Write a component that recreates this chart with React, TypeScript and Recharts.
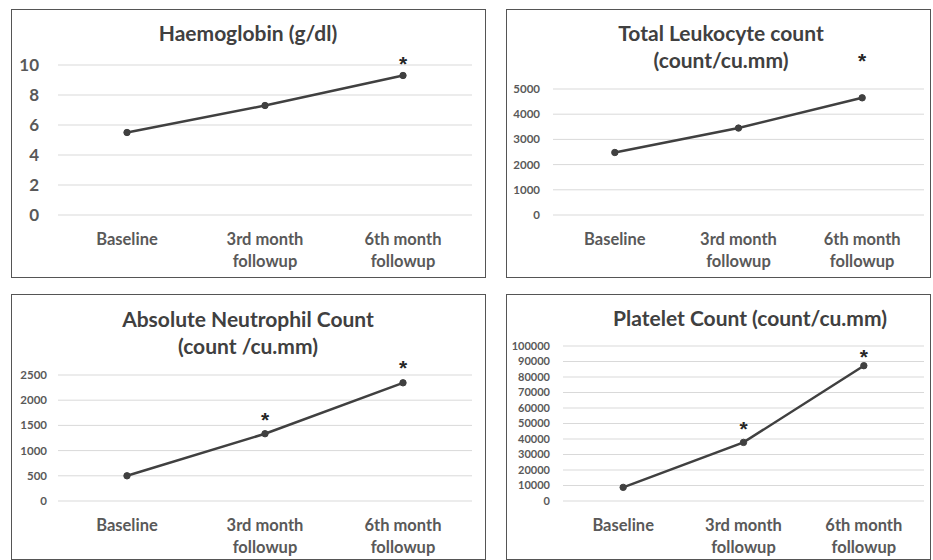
import React from 'react';
import { LineChart, Line, XAxis, YAxis, CartesianGrid } from 'recharts';

const categories = ['Baseline', '3rd month followup', '6th month followup'];

const haemoglobin = [5.5, 7.3, 9.3];
const leukocyte = [2480, 3450, 4650];
const neutrophil = [500, 1335, 2345];
const platelet = [8800, 37800, 87300];

const haemoglobinSig = [false, false, true];
const leukocyteSig = [false, false, true];
const neutrophilSig = [false, true, true];
const plateletSig = [false, true, true];

const haemoglobinTicks = [0, 2, 4, 6, 8, 10];
const leukocyteTicks = [0, 1000, 2000, 3000, 4000, 5000];
const neutrophilTicks = [0, 500, 1000, 1500, 2000, 2500];
const plateletTicks = [0, 10000, 20000, 30000, 40000, 50000, 60000, 70000, 80000, 90000, 100000];

const FONT = 'Lato, "Open Sans", sans-serif';
const LINE = '#404040';
const TEXT = '#595959';

type PanelProps = {
  left: number; top: number; width: number; height: number;
  yAxisWidth: number; marginTop: number; marginRight: number; xAxisHeight: number;
  title: string[]; titleX: number; titleY: number;
  values: number[]; sig: boolean[]; sigLift: number[];
  ticks: number[]; yFont: number; yGap: number;
};

const XTick = (props: any) => {
  const { x, y, payload } = props;
  const words = String(payload.value).split(' ');
  const lines = words.length > 2 ? [words.slice(0, 2).join(' '), words.slice(2).join(' ')] : [words.join(' ')];
  return (
    <text x={x} y={y} textAnchor="middle" fill={TEXT} fontFamily={FONT} fontWeight={700} fontSize={16.5}>
      {lines.map((l, i) => (
        <tspan key={i} x={x} dy={i === 0 ? 30 : 22}>{l}</tspan>
      ))}
    </text>
  );
};

function Panel(p: PanelProps) {
  const data = categories.map((c, i) => ({ cat: c, v: p.values[i] }));
  const plotW = p.width - p.yAxisWidth - p.marginRight;
  const band = plotW / categories.length;
  const max = p.ticks[p.ticks.length - 1];
  return (
    <>
      <div style={{ position: 'absolute', left: p.left, top: p.top, width: p.width - 2, height: p.height - 2, border: '1px solid #555' }} />
      <div style={{ position: 'absolute', left: p.titleX - 220, top: p.titleY - 14.5, width: 440, textAlign: 'center', fontFamily: FONT, fontWeight: 700, fontSize: 21, lineHeight: '27.5px', color: LINE }}>
        {p.title.map((t, i) => <div key={i}>{t}</div>)}
      </div>
      <div style={{ position: 'absolute', left: p.left, top: p.top }}>
        <LineChart width={p.width} height={p.height} data={data} margin={{ top: p.marginTop, right: p.marginRight, bottom: 0, left: 0 }}>
          <CartesianGrid vertical={false} stroke="#d9d9d9" strokeWidth={1} />
          <XAxis dataKey="cat" height={p.xAxisHeight} axisLine={false} tickLine={false} tickSize={0} tickMargin={0} interval={0} padding={{ left: band / 2, right: band / 2 }} tick={<XTick />} />
          <YAxis width={p.yAxisWidth} domain={[0, max]} ticks={p.ticks} axisLine={false} tickLine={false} tickSize={0} tickMargin={p.yGap} interval={0}
            tick={{ fill: TEXT, fontFamily: FONT, fontWeight: 700, fontSize: p.yFont }} />
          <Line type="linear" dataKey="v" stroke={LINE} strokeWidth={2.5} isAnimationActive={false}
            dot={{ r: 3.2, fill: LINE, stroke: LINE, strokeWidth: 1 }}
            label={(lp: any) => {
              const { x, y, index } = lp;
              if (!p.sig[index]) return <g key={index} />;
              return (
                <text key={index} x={x} y={y - p.sigLift[index]} textAnchor="middle" fill="#262626" fontFamily='"Liberation Sans", Arial, sans-serif' fontWeight={700} fontSize={21}>*</text>
              );
            }} />
        </LineChart>
      </div>
    </>
  );
}

export default function App() {
  return (
    <div style={{ position: 'absolute', left: 0, top: 0, width: 933, height: 560, background: '#fff', overflow: 'hidden' }}>
      <Panel left={11} top={9} width={475} height={269} yAxisWidth={47} marginTop={56} marginRight={14} xAxisHeight={63}
        title={['Haemoglobin (g/dl)']} titleX={248} titleY={33}
        values={haemoglobin} sig={haemoglobinSig} sigLift={[0, 0, 5]} ticks={haemoglobinTicks} yFont={17} yGap={19} />
      <Panel left={506} top={9} width={425} height={269} yAxisWidth={47} marginTop={80} marginRight={7} xAxisHeight={63}
        title={['Total Leukocyte count', '(count/cu.mm)']} titleX={721} titleY={33}
        values={leukocyte} sig={leukocyteSig} sigLift={[0, 0, 30]} ticks={leukocyteTicks} yFont={11.5} yGap={13} />
      <Panel left={11} top={294} width={475} height={266} yAxisWidth={47} marginTop={81} marginRight={14} xAxisHeight={59}
        title={['Absolute Neutrophil Count', '(count /cu.mm)']} titleX={248} titleY={319}
        values={neutrophil} sig={neutrophilSig} sigLift={[0, 7, 8]} ticks={neutrophilTicks} yFont={11.5} yGap={11} />
      <Panel left={506} top={294} width={425} height={266} yAxisWidth={57} marginTop={52} marginRight={7} xAxisHeight={59}
        title={['Platelet Count (count/cu.mm)']} titleX={750} titleY={318}
        values={platelet} sig={plateletSig} sigLift={[0, 6, 2]} ticks={plateletTicks} yFont={11} yGap={13} />
    </div>
  );
}
